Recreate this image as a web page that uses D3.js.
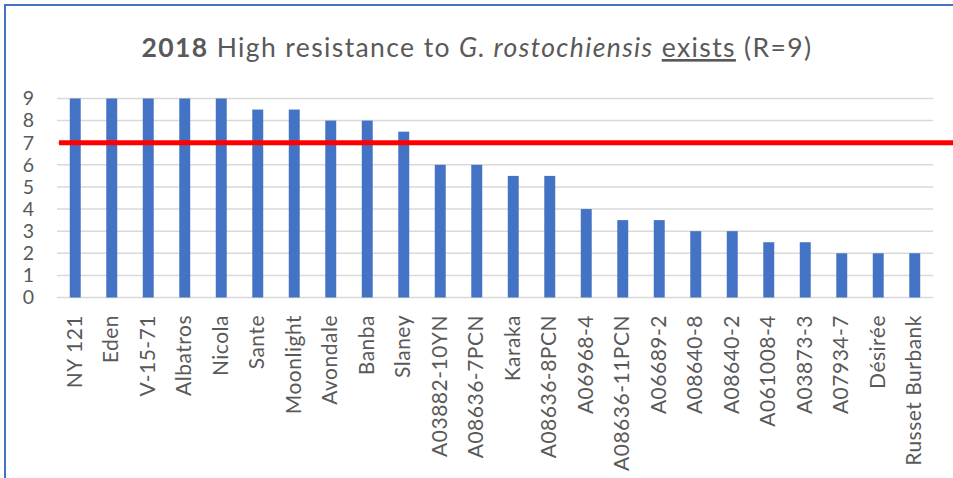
<!DOCTYPE html>
<html>
<head>
<meta charset="utf-8">
<script src="https://cdn.jsdelivr.net/npm/d3@7"></script>
<style>
  body { margin: 0; background: #fff; }
  svg { display: block; font-family: Lato, "Open Sans", sans-serif; }
</style>
</head>
<body>
<svg id="chart" width="953" height="478"></svg>
<script>
const varieties = [
  "NY 121", "Eden", "V-15-71", "Albatros", "Nicola", "Sante", "Moonlight",
  "Avondale", "Banba", "Slaney", "A03882-10YN", "A08636-7PCN", "Karaka",
  "A08636-8PCN", "A06968-4", "A08636-11PCN", "A06689-2", "A08640-8",
  "A08640-2", "A061008-4", "A03873-3", "A07934-7", "Désirée", "Russet Burbank"
];
const scores = [9, 9, 9, 9, 9, 8.5, 8.5, 8, 8, 7.5, 6, 6, 5.5, 5.5, 4, 3.5, 3.5, 3, 3, 2.5, 2.5, 2, 2, 2];
const yTicks = [0, 1, 2, 3, 4, 5, 6, 7, 8, 9];
const threshold = 7;

const svg = d3.select("#chart");
const plotLeft = 57, plotRight = 933, plotTop = 98.5, plotBottom = 297.5;

// outer frame (only left and top edges visible)
svg.append("rect")
  .attr("x", 5).attr("y", 5)
  .attr("width", 1200).attr("height", 1200)
  .attr("fill", "none")
  .attr("stroke", "#4472C4")
  .attr("stroke-width", 2);

const x = d3.scaleBand().domain(varieties).range([plotLeft, plotRight]).paddingInner(0.7).paddingOuter(0.35);
const y = d3.scaleLinear().domain([0, 9]).range([plotBottom, plotTop]);

// gridlines
svg.append("g")
  .selectAll("line")
  .data(yTicks)
  .enter()
  .append("line")
  .attr("x1", plotLeft).attr("x2", plotRight)
  .attr("y1", (d) => y(d)).attr("y2", (d) => y(d))
  .attr("stroke", "#d9d9d9")
  .attr("stroke-width", 1.5);

// y tick labels
svg.append("g")
  .selectAll("text")
  .data(yTicks)
  .enter()
  .append("text")
  .attr("x", 34)
  .attr("y", (d) => y(d))
  .attr("dy", "0.35em")
  .attr("text-anchor", "end")
  .attr("fill", "#595959")
  .attr("font-size", 19.5)
  .text((d) => d);

// bars
svg.append("g")
  .selectAll("rect")
  .data(scores)
  .enter()
  .append("rect")
  .attr("x", (d, i) => x(varieties[i]))
  .attr("y", (d) => y(d))
  .attr("width", x.bandwidth())
  .attr("height", (d) => y(0) - y(d))
  .attr("fill", "#4472C4");

// threshold line
svg.append("line")
  .attr("x1", 59).attr("x2", 953)
  .attr("y1", y(threshold)).attr("y2", y(threshold))
  .attr("stroke", "#FF0000")
  .attr("stroke-width", 5);

// x labels, rotated
svg.append("g")
  .selectAll("text")
  .data(varieties)
  .enter()
  .append("text")
  .attr("transform", (d) => "translate(" + (x(d) + x.bandwidth() / 2 - 1) + ",315) rotate(-90)")
  .attr("dy", "0.36em")
  .attr("text-anchor", "end")
  .attr("fill", "#595959")
  .attr("font-size", 21)
  .attr("letter-spacing", 0.5)
  .text((d) => d);

// title
const title = svg.append("text")
  .attr("x", 477)
  .attr("y", 57)
  .attr("text-anchor", "middle")
  .attr("fill", "#595959")
  .attr("font-size", 26.5);
title.append("tspan").attr("font-weight", "bold").text("2018");
title.append("tspan").text(" High resistance to ");
title.append("tspan").attr("font-style", "italic").text("G. rostochiensis");
title.append("tspan").text(" ");
title.append("tspan").attr("text-decoration", "underline").text("exists");
title.append("tspan").text(" (R=9)");

// stretch the title to the width it has in the reference
const titleWidth = 671;
const nChars = title.text().length;
const extra = (titleWidth - title.node().getComputedTextLength()) / nChars;
title.attr("letter-spacing", extra);
</script>
</body>
</html>
